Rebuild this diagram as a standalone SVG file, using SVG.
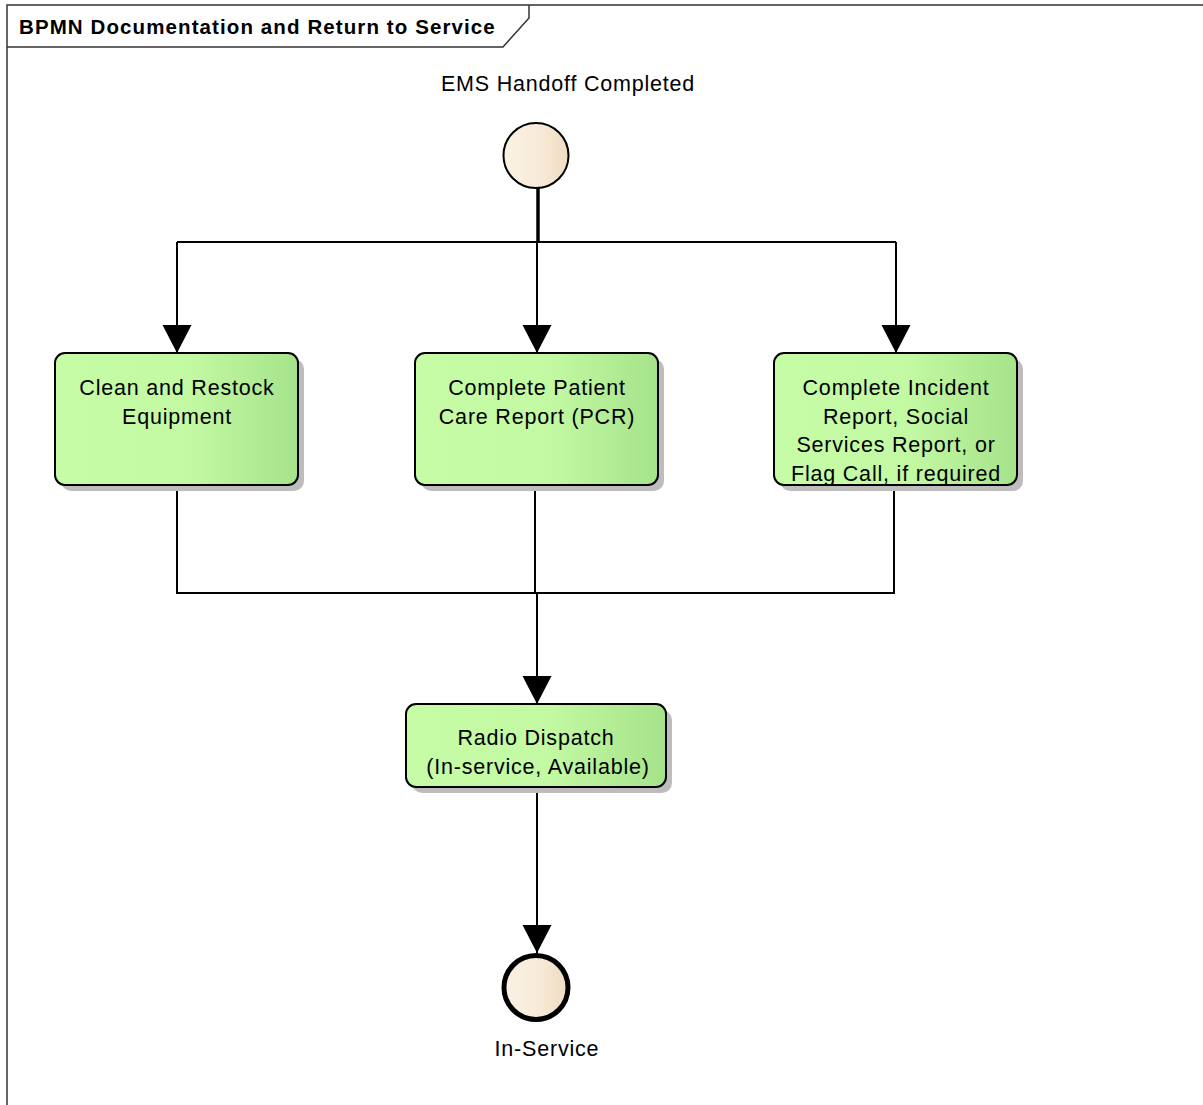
<svg xmlns="http://www.w3.org/2000/svg" width="1203" height="1105" viewBox="0 0 1203 1105">
<style>
.lbl{font-family:"Liberation Sans",Arial,sans-serif;font-size:21.5px;letter-spacing:0.8px;fill:#000;text-anchor:middle}
.title{font-family:"Liberation Sans",Arial,sans-serif;font-size:20.5px;letter-spacing:1.1px;font-weight:bold;fill:#000}
.task{fill:url(#gGreen);stroke:#000;stroke-width:2}
.shadow{fill:#bdbdbd}
.conn{fill:none;stroke:#000;stroke-width:2}
</style>
<defs>
<linearGradient id="gGreen" x1="0" y1="0" x2="1" y2="0">
<stop offset="0" stop-color="#c6fca6"/>
<stop offset="0.55" stop-color="#c3f9a3"/>
<stop offset="1" stop-color="#a5e38a"/>
</linearGradient>
<linearGradient id="gCream" x1="0" y1="0" x2="1" y2="0">
<stop offset="0" stop-color="#faf1e4"/>
<stop offset="0.5" stop-color="#f8ecda"/>
<stop offset="1" stop-color="#efdcc2"/>
</linearGradient>
<marker id="arr" markerUnits="userSpaceOnUse" markerWidth="30" markerHeight="36" refX="28" refY="14.5" orient="auto">
<path d="M0,0 L28,14.5 L0,29 Z" fill="#000"/>
</marker>
</defs>
<rect x="0" y="0" width="1203" height="1105" fill="#fff"/>
<g id="frame">
<path d="M7,1105 L7,5 L1203,5" fill="none" stroke="#333" stroke-width="1.5"/>
<path d="M7,47 L503,47 L529,18 L529,5" fill="none" stroke="#333" stroke-width="1.5"/>
<text class="title" x="19" y="34">BPMN Documentation and Return to Service</text>
</g>
<g id="connectors">
<path d="M538,188 L538,242" fill="none" stroke="#000" stroke-width="3.5"/>
<path class="conn" d="M177,242 L896,242"/>
<path class="conn" d="M177,242 L177,353" marker-end="url(#arr)"/>
<path class="conn" d="M537,242 L537,353" marker-end="url(#arr)"/>
<path class="conn" d="M896,242 L896,353" marker-end="url(#arr)"/>
<path class="conn" d="M177,485 L177,593 L894,593 L894,485"/>
<path class="conn" d="M535,485 L535,593"/>
<path class="conn" d="M537,593 L537,704" marker-end="url(#arr)"/>
<path class="conn" d="M537,787 L537,953" marker-end="url(#arr)"/>
</g>
<g id="start">
<circle cx="536" cy="155.5" r="32.5" fill="url(#gCream)" stroke="#000" stroke-width="2"/>
<text class="lbl" x="568" y="91">EMS Handoff Completed</text>
</g>
<g id="task1">
<rect class="shadow" x="61" y="359" width="243" height="132" rx="10"/>
<rect class="task" x="55" y="353" width="243" height="132" rx="10"/>
<text class="lbl" x="177" y="395">Clean and Restock</text>
<text class="lbl" x="177" y="424">Equipment</text>
</g>
<g id="task2">
<rect class="shadow" x="421" y="359" width="243" height="132" rx="10"/>
<rect class="task" x="415" y="353" width="243" height="132" rx="10"/>
<text class="lbl" x="537" y="395">Complete Patient</text>
<text class="lbl" x="537" y="424">Care Report (PCR)</text>
</g>
<g id="task3">
<rect class="shadow" x="780" y="359" width="243" height="132" rx="10"/>
<rect class="task" x="774" y="353" width="243" height="132" rx="10"/>
<text class="lbl" x="896" y="395">Complete Incident</text>
<text class="lbl" x="896" y="424">Report, Social</text>
<text class="lbl" x="896" y="452">Services Report, or</text>
<text class="lbl" x="896" y="481">Flag Call, if required</text>
</g>
<g id="task4">
<rect class="shadow" x="412" y="710" width="260" height="83" rx="10"/>
<rect class="task" x="406" y="704" width="260" height="83" rx="10"/>
<text class="lbl" x="536" y="745">Radio Dispatch</text>
<text class="lbl" x="538" y="774">(In-service, Available)</text>
</g>
<g id="end">
<circle cx="536" cy="987.5" r="32" fill="url(#gCream)" stroke="#000" stroke-width="5"/>
<text class="lbl" x="547" y="1056">In-Service</text>
</g>
</svg>
